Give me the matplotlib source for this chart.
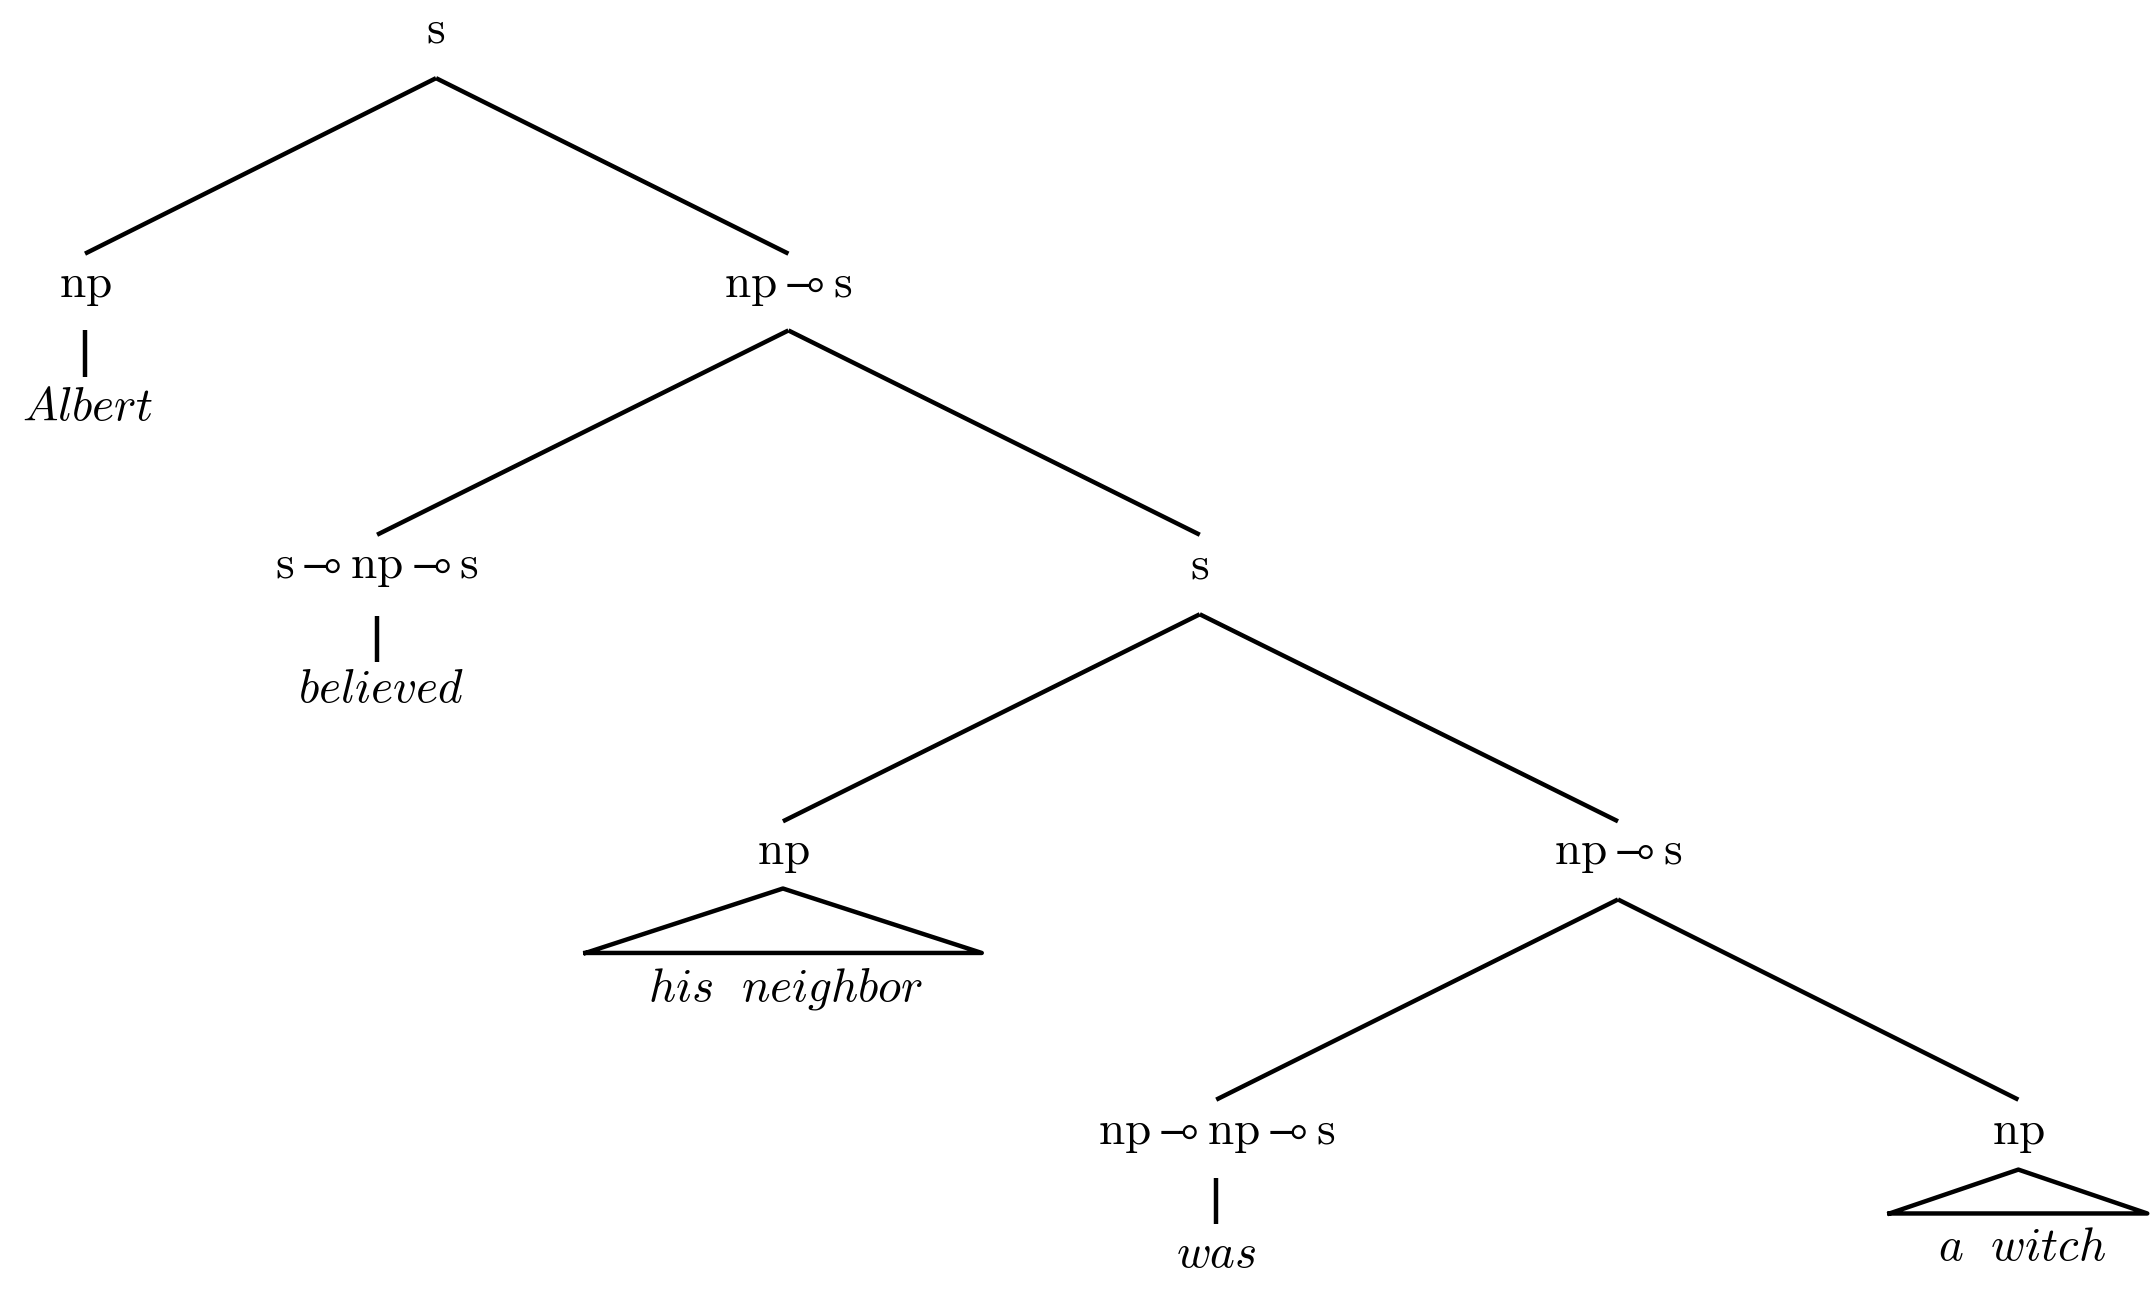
import matplotlib
matplotlib.use("Agg")
import matplotlib.pyplot as plt
plt.rcParams['mathtext.fontset'] = 'cm'

W, H = 1568, 943
labels = [r"$\mathrm{s}$", r"$\mathrm{np}$", r"$\mathrm{np}\multimap\mathrm{s}$", r"$\mathit{Albert}$",
          r"$\mathrm{s}\multimap\mathrm{np}\multimap\mathrm{s}$", r"$\mathit{believed}$", r"$\mathrm{s}$",
          r"$\mathrm{np}$", r"$\mathit{his\ \ neighbor}$", r"$\mathrm{np}\multimap\mathrm{s}$",
          r"$\mathrm{np}\multimap\mathrm{np}\multimap\mathrm{s}$", r"$\mathit{was}$", r"$\mathrm{np}$",
          r"$\mathit{a\ \ witch}$"]
lx = [318, 62, 575, 64, 275, 278, 875, 571, 573, 1180, 887, 887, 1472, 1475]
ly = [22, 208, 208, 297, 413, 503, 413, 622, 721, 622, 826, 915, 826, 910]
edges = [((318, 57), (62, 185)), ((318, 57), (575, 185)),
         ((575, 241), (275, 390)), ((575, 241), (875, 390)),
         ((875, 448), (571, 599)), ((875, 448), (1180, 599)),
         ((1180, 656), (887, 802)), ((1180, 656), (1472, 802)),
         ((62, 241), (62, 275)), ((275, 449), (275, 483)), ((887, 859), (887, 893))]
tris = [((571, 648), 427, 716, 695), ((1472, 853), 1378, 1566, 885)]

fig = plt.figure(figsize=(21.5, 12.93), dpi=100)
ax = fig.add_axes([0, 0, 1, 1])
ax.set_xlim(0, W); ax.set_ylim(H, 0); ax.axis('off')
for (a, b) in edges:
    ax.plot([a[0], b[0]], [a[1], b[1]], color='black', lw=3.2, solid_capstyle='butt')
for (ap, x0, x1, y) in tris:
    ax.plot([x0, ap[0], x1, x0], [y, ap[1], y, y], color='black', lw=3.2)
for t, x, y in zip(labels, lx, ly):
    ax.text(x, y, t, ha='center', va='center', fontsize=34)
fig.savefig("out.png", dpi=100)
